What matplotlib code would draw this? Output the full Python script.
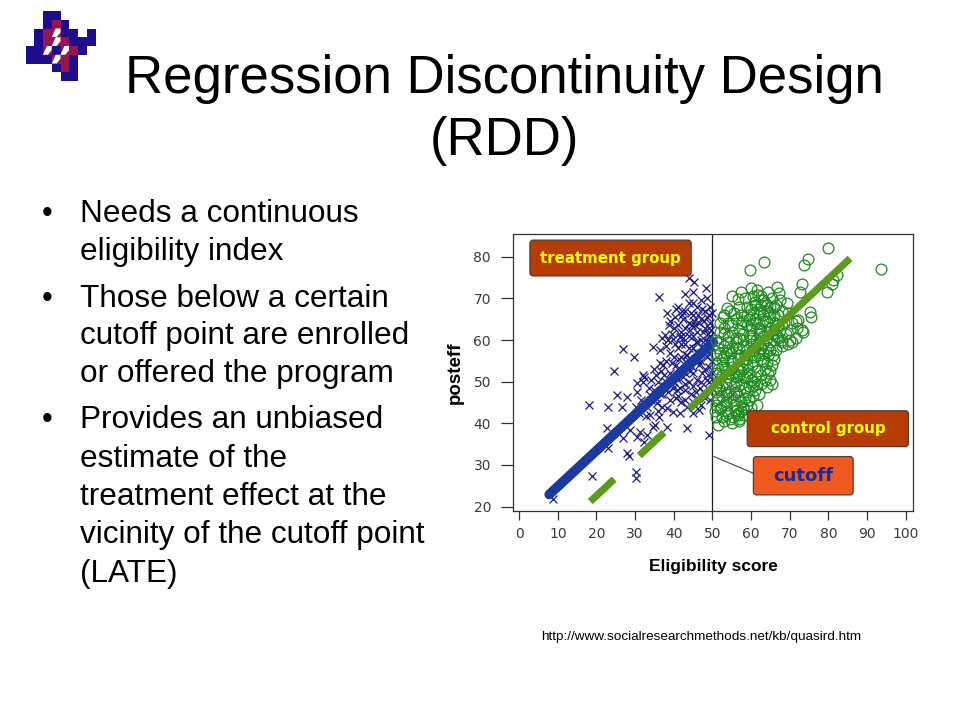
import numpy as np
import matplotlib
matplotlib.use("Agg")
import matplotlib.pyplot as plt
from matplotlib.patches import FancyBboxPatch, Rectangle, Polygon

# ---------------- data ----------------
treat_x = [44.0, 45.3, 48.3, 36.2, 38.2, 40.6, 42.1, 37.8, 39.8, 41.6,
           26.8, 29.6, 34.6, 36.5, 24.6, 32.0, 34.8, 37.3, 18.2, 23.1,
           25.4, 26.6, 28.0, 22.7, 18.8, 23.1, 27.8, 28.3, 30.3, 30.3,
           30.4, 32.3, 34.7, 38.2, 43.4, 49.2, 8.7, 30.4, 30.4, 32.4,
           30.3, 32.8, 27.0, 31.3, 28.7, 33.0, 35.2, 33.9, 36.3, 38.2,
           39.9, 41.6, 45.1, 46.6, 35.6, 33.9, 36.5, 39.0, 32.1, 40.0,
           41.0, 42.0, 43.0, 44.0, 45.0, 46.0, 47.0, 48.0, 49.0, 49.5,
           42.0, 44.0, 45.0, 46.0, 47.0, 48.0, 49.0, 43.0, 44.0, 45.0,
           46.0, 47.0, 48.0, 49.0, 49.8, 41.0, 40.0, 39.0, 38.0, 39.0,
           40.0, 37.0, 36.0, 35.0, 34.0, 42.0, 43.0, 44.0, 45.0, 46.0,
           47.0, 48.0, 49.0, 49.8, 49.8, 49.0, 48.0, 47.0, 46.0, 45.0,
           44.0, 43.0, 42.0, 41.0, 43.0, 45.0, 47.0, 48.5, 49.5, 44.0,
           46.5, 47.5, 48.5, 46.5, 45.5, 43.5, 42.5, 41.5, 40.5, 38.5,
           37.5, 36.5, 38.0, 40.5, 42.5, 39.5, 44.5, 48.5, 49.5, 46.0,
           47.5, 48.8, 45.5, 44.5, 49.0, 45.0, 43.5, 47.5, 41.0, 38.0,
           33.5, 31.5, 35.5, 37.0, 39.5,
           40.2, 41.3, 42.4, 43.5, 44.6, 45.7, 46.8, 47.9, 49.0, 49.7,
           40.8, 41.9, 43.0, 44.1, 45.2, 46.3, 47.4, 48.5, 49.6, 39.5,
           38.5, 37.5, 36.8, 39.8, 42.8, 45.8, 48.8, 44.2, 46.2, 48.2,
           47.2, 43.2, 41.2, 49.4, 46.8, 44.8, 42.2, 40.2, 38.8, 49.8,
           35.5, 34.0, 33.0, 36.0, 31.0, 37.0, 39.0, 41.0, 43.0, 45.0]
treat_y = [74.8, 73.9, 72.4, 70.4, 66.4, 67.4, 66.0, 61.2, 60.2, 60.7,
           57.8, 55.9, 58.3, 57.6, 52.6, 51.6, 53.0, 54.0, 44.4, 44.0,
           46.8, 44.0, 46.4, 38.8, 27.4, 34.0, 32.8, 32.2, 28.3, 26.9,
           36.8, 35.6, 39.0, 39.2, 38.8, 37.2, 21.9, 47.6, 49.6, 51.2,
           43.9, 41.8, 36.4, 38.0, 38.4, 37.2, 39.6, 42.0, 41.6, 43.6,
           42.8, 42.4, 42.4, 43.2, 44.8, 46.8, 47.0, 45.6, 50.0, 50.0,
           53.0, 56.0, 48.0, 58.0, 52.0, 62.0, 55.0, 60.0, 50.0, 64.0,
           62.0, 64.0, 66.0, 68.0, 65.0, 67.0, 63.0, 59.0, 55.0, 49.0,
           46.0, 50.0, 53.0, 57.0, 55.0, 58.0, 56.0, 52.0, 50.0, 57.0,
           63.0, 47.0, 50.0, 48.0, 45.5, 45.0, 52.0, 50.0, 58.0, 57.0,
           60.0, 63.0, 66.0, 60.0, 52.0, 48.0, 46.0, 44.5, 50.5, 61.0,
           61.0, 63.0, 59.0, 63.5, 67.0, 69.0, 69.5, 70.0, 68.0, 69.0,
           64.0, 58.0, 56.0, 54.0, 55.5, 54.5, 51.0, 48.5, 46.0, 47.5,
           51.5, 54.5, 55.0, 54.0, 65.0, 61.5, 47.0, 50.5, 45.5, 59.5,
           62.0, 61.5, 63.5, 66.5, 53.5, 45.0, 44.0, 47.5, 50.5, 58.5,
           48.5, 45.5, 51.5, 44.0, 49.5,
           59.0, 55.5, 60.5, 56.5, 53.5, 59.5, 57.0, 64.5, 59.5, 62.5,
           48.0, 61.0, 45.5, 52.5, 64.5, 66.0, 67.5, 65.5, 58.5, 54.5,
           60.0, 49.0, 52.5, 48.5, 49.5, 47.5, 51.5, 62.5, 55.0, 58.0,
           52.0, 56.5, 46.5, 61.0, 48.5, 63.5, 67.0, 65.5, 63.5, 66.5,
           46.0, 50.5, 44.0, 43.0, 42.5, 60.5, 64.5, 68.0, 71.0, 71.5]

ctrl_x = [79.8, 63.4, 59.7, 74.8, 73.8, 93.6, 73.1, 80.9, 79.6, 82.2,
          81.2, 66.6, 67.2, 72.7, 56.7, 69.2, 75.2, 75.6, 72.2, 53.7,
          52.7, 61.0, 61.8, 70.5, 67.9, 73.1, 64.9, 64.1, 65.4, 57.5,
          58.5, 60.0, 61.5, 62.5, 63.5, 64.5, 65.5, 66.5, 64.0, 62.0,
          60.5, 59.0, 57.5, 56.0, 55.0, 57.0, 59.0, 61.0, 63.0, 65.0,
          67.0, 68.5, 66.0, 64.0, 62.0, 60.0, 58.0, 56.0, 54.0, 52.0,
          51.0, 53.0, 55.0, 57.0, 59.0, 61.0, 63.0, 65.0, 67.0, 69.0,
          70.0, 71.5, 69.5, 66.5, 64.5, 62.5, 60.5, 58.5, 56.5, 54.5,
          52.5, 50.8, 51.5, 53.5, 55.5, 57.5, 59.5, 61.5, 63.5, 65.5,
          63.5, 61.5, 59.5, 57.5, 55.5, 53.5, 51.5, 50.8, 52.5, 54.5,
          56.5, 58.5, 60.5, 62.0, 60.0, 58.0, 56.0, 54.0, 52.0, 51.0,
          53.0, 55.0, 57.0, 53.5, 55.5, 57.5, 59.0, 61.0, 56.0, 54.0,
          52.0, 60.0, 58.0, 56.0, 54.0, 52.5, 62.5, 64.5, 59.0, 57.0,
          55.0, 53.0, 61.0, 63.0, 65.0, 58.0, 60.0, 62.0, 56.0, 54.0,
          58.0, 60.0, 62.0, 64.0, 66.0, 63.0, 61.0, 59.5, 57.5, 55.5,
          54.0, 53.0, 60.5, 62.5, 65.0, 67.5, 68.0, 69.5, 70.5, 71.5,
          72.0, 73.5, 63.0, 65.5, 67.5, 68.0, 66.0, 64.0, 50.8, 50.8,
          51.5, 52.0, 55.0, 53.5, 57.0, 60.5, 62.5, 59.0, 56.5, 54.5,
          52.5, 51.5, 53.5,
          50.6, 51.2, 51.8, 52.4, 53.0, 53.6, 54.2, 54.8, 55.4, 56.0,
          56.6, 57.2, 57.8, 58.4, 59.0, 59.6, 60.2, 60.8, 61.4, 62.0,
          62.6, 63.2, 63.8, 64.4, 65.0, 65.6, 66.2, 66.8, 51.0, 52.0,
          53.0, 54.0, 55.0, 56.0, 57.0, 58.0, 59.0, 60.0, 61.0, 62.0,
          63.0, 64.0, 65.0, 66.0, 67.0, 51.5, 52.5, 53.5, 54.5, 55.5,
          56.5, 57.5, 58.5, 59.5, 60.5, 61.5, 62.5, 50.8, 52.2, 53.8,
          55.2, 56.8, 58.2, 55.0, 57.0, 59.0, 61.0, 63.0, 65.0, 58.0,
          60.0, 62.0, 64.0, 66.0, 68.0, 70.0, 57.0, 54.5, 52.0, 53.0]
ctrl_y = [82.2, 78.8, 76.8, 79.4, 78.0, 77.0, 73.4, 73.4, 71.6, 75.6,
          74.5, 72.8, 71.2, 71.6, 69.8, 68.8, 66.8, 65.6, 64.8, 67.6,
          65.6, 69.2, 70.8, 59.6, 60.0, 62.4, 50.4, 48.8, 49.5, 71.5,
          70.0, 72.5, 72.0, 70.5, 69.0, 71.5, 70.0, 68.5, 67.0, 67.5,
          66.5, 68.0, 66.0, 65.0, 63.5, 62.5, 63.5, 64.0, 64.5, 65.5,
          66.0, 64.0, 62.5, 62.0, 61.5, 60.5, 60.0, 60.5, 61.0, 62.0,
          60.0, 58.5, 58.0, 58.0, 57.5, 58.0, 59.0, 59.5, 60.5, 61.5,
          62.5, 60.5, 59.0, 57.5, 56.5, 55.5, 55.0, 55.5, 55.5, 55.0,
          55.5, 56.5, 53.0, 52.5, 52.0, 52.5, 52.0, 52.5, 53.0, 54.0,
          50.5, 49.5, 49.0, 49.5, 49.0, 49.5, 50.0, 47.5, 46.5, 46.0,
          46.5, 46.0, 46.5, 47.0, 44.0, 43.5, 43.0, 42.5, 43.5, 41.5,
          40.5, 40.0, 41.0, 44.5, 44.5, 45.0, 47.5, 48.0, 47.5, 47.5,
          48.0, 50.5, 51.0, 51.0, 51.0, 51.5, 51.5, 52.0, 54.0, 54.0,
          53.5, 54.0, 56.0, 57.0, 57.5, 58.5, 59.0, 59.5, 59.5, 59.5,
          61.5, 62.5, 63.0, 64.5, 66.0, 66.0, 68.5, 65.0, 64.0, 66.5,
          64.0, 66.0, 70.5, 68.5, 68.0, 69.5, 67.0, 66.5, 64.0, 64.5,
          63.0, 62.0, 61.0, 61.5, 62.5, 58.5, 55.5, 54.5, 44.5, 52.0,
          58.0, 64.0, 70.5, 57.0, 56.5, 57.5, 58.0, 44.5, 42.0, 41.0,
          41.5, 39.5, 42.0,
          43.0, 45.5, 48.5, 53.5, 56.0, 47.0, 52.0, 57.0, 45.5, 50.0,
          53.0, 48.0, 44.0, 56.5, 51.0, 61.0, 54.0, 50.0, 60.0, 56.5,
          62.5, 55.0, 60.0, 58.0, 63.0, 56.5, 64.0, 61.0, 54.5, 59.5,
          61.5, 57.5, 62.0, 58.0, 60.5, 53.0, 66.0, 63.5, 65.0, 66.5,
          69.5, 60.5, 66.5, 68.0, 63.5, 46.0, 49.0, 45.0, 50.5, 47.0,
          42.5, 43.0, 48.5, 45.5, 49.0, 44.5, 49.5, 49.0, 44.0, 43.0,
          41.5, 40.5, 42.0, 55.0, 51.5, 55.5, 51.0, 55.0, 52.5, 64.5,
          67.5, 64.0, 68.5, 60.0, 59.5, 60.0, 68.0, 67.0, 57.0, 63.0]

treat_fit_x = [7.8, 50.2]
treat_fit_y = [22.9, 59.5]
ctrl_fit_x = [18.4, 85.6]
ctrl_fit_y = [21.2, 79.6]
ctrl_dash_breaks = [18.4, 24.6, 31.1, 37.5, 44.0, 85.6]   # on/off/on/off/on
cutoff = 50

x_ticks = [0, 10, 20, 30, 40, 50, 60, 70, 80, 90, 100]
y_ticks = [20, 30, 40, 50, 60, 70, 80]

bullets = [
    ["Needs a continuous", "eligibility index"],
    ["Those below a certain", "cutoff point are enrolled", "or offered the program"],
    ["Provides an unbiased", "estimate of the", "treatment effect at the",
     "vicinity of the cutoff point", "(LATE)"],
]

# ---------------- figure ----------------
W, H = 960, 720
fig = plt.figure(figsize=(9.6, 7.2), dpi=100)
fig.patch.set_facecolor("white")

def fx(x):
    return x / W

def fy(y):
    return 1 - y / H

SANS = ["Liberation Sans", "DejaVu Sans"]

# title
fig.text(fx(504), fy(93), "Regression Discontinuity Design", ha="center",
         va="baseline", fontsize=38, family=SANS, color="black")
fig.text(fx(504), fy(155), "(RDD)", ha="center", va="baseline",
         fontsize=38, family=SANS, color="black")

# bullets
baselines = [221.7, 260, 306.7, 344.3, 382.3, 428.3, 466.7, 505, 543.3, 581.7]
k = 0
for item in bullets:
    for j, line in enumerate(item):
        yb = baselines[k]
        if j == 0:
            fig.text(fx(42), fy(yb), "\u2022", ha="left", va="baseline",
                     fontsize=22, family=SANS)
        fig.text(fx(80.5), fy(yb), line, ha="left", va="baseline",
                 fontsize=22.7, family=SANS)
        k += 1

# URL
fig.text(fx(701), fy(640), "http://www.socialresearchmethods.net/kb/quasird.htm",
         ha="center", va="baseline", fontsize=9.7, family=SANS, color="black")

# logo
logo_grid = [
    "..BB....",
    "..BMB...",
    ".BMWBB.B",
    ".BMWMBBB",
    "BBWBWMB.",
    "BBBWMB..",
    "...BMB..",
    "....BB..",
]
lax = fig.add_axes([fx(25.5), fy(81), 70 / W, 70 / H])
lax.set_xlim(0, 8)
lax.set_ylim(8, 0)
lax.axis("off")
BLUE_L = "#1c0e8e"
MAR_L = "#9a1550"
for r, row in enumerate(logo_grid):
    for c, ch in enumerate(row):
        if ch == "B":
            lax.add_patch(Rectangle((c, r), 1, 1, color=BLUE_L, lw=0))
        elif ch == "M":
            lax.add_patch(Rectangle((c, r), 1, 1, color=MAR_L, lw=0))
        elif ch == "W":
            lax.add_patch(Rectangle((c, r), 1, 1, color=MAR_L, lw=0))
            lax.add_patch(Polygon([(c, r + 1), (c + 0.55, r + 1), (c + 1, r + 0.45),
                                   (c + 1, r), (c + 0.45, r)],
                                  closed=True, color="white", lw=0))

# ---------------- chart ----------------
ax = fig.add_axes([fx(513.3), fy(510.7), (912.7 - 513.3) / W, (510.7 - 234.3) / H])
ax.set_xlim(-1.5, 101.8)
ax.set_ylim(19.0, 85.4)
for s in ax.spines.values():
    s.set_color("#333333")
    s.set_linewidth(0.9)

ax.plot(treat_x, treat_y, linestyle="none", marker="x", ms=6, mew=0.9,
        color="#1b1b8a", zorder=2)
ax.plot(treat_fit_x, treat_fit_y, color="#1a3aa2", lw=7.0,
        solid_capstyle="round", zorder=3)
ax.plot(ctrl_x, ctrl_y, linestyle="none", marker="o", ms=7.8, mew=0.9,
        mfc="none", mec="#1f8c1f", zorder=4)
for i in range(0, len(ctrl_dash_breaks) - 1, 2):
    xs = [ctrl_dash_breaks[i], ctrl_dash_breaks[i + 1]]
    ys = np.interp(xs, ctrl_fit_x, ctrl_fit_y)
    ax.plot(xs, ys, color="#5b9b1c", lw=5.2, solid_capstyle="butt", zorder=5)

ax.axvline(cutoff, color="#222222", lw=0.9, zorder=1)

ax.set_xticks(x_ticks)
ax.set_yticks(y_ticks)
ax.tick_params(axis="y", length=9, width=0.9, color="#333333", pad=7,
               labelsize=10, labelcolor="#3a3a3a")
ax.tick_params(axis="x", length=6.5, width=0.9, color="#333333", pad=5,
               labelsize=10, labelcolor="#3a3a3a")
for lab in ax.get_xticklabels() + ax.get_yticklabels():
    lab.set_family("DejaVu Sans")

ax.set_xlabel("Eligibility score", fontsize=12.5, fontweight="bold",
              family=SANS, labelpad=13)
ax.set_ylabel("posteff", fontsize=13.5, fontweight="bold", family=SANS,
              labelpad=7)

# label boxes (data coordinates)
def label_box(x0, x1, y0, y1, face, text, tcolor, size):
    p = FancyBboxPatch((x0, y0), x1 - x0, y1 - y0,
                       boxstyle="round,pad=0,rounding_size=0.8",
                       mutation_aspect=0.9, fc=face, ec="#5a3a30",
                       lw=0.9, zorder=6)
    ax.add_patch(p)
    ax.text((x0 + x1) / 2, (y0 + y1) / 2, text, ha="center", va="center",
            color=tcolor, fontsize=size, fontweight="bold",
            family="DejaVu Sans", zorder=7)

label_box(2.8, 44.5, 75.4, 84.0, "#b53c05", "treatment group", "#ffff00", 10.8)
label_box(59.0, 100.7, 34.4, 43.0, "#b53c05", "control group", "#ffff00", 10.8)
ax.plot([50.4, 60.6], [32.0, 28.0], color="#444444", lw=0.8, zorder=5)
label_box(60.6, 86.4, 22.8, 32.0, "#f05a20", "cutoff", "#1a2a9a", 13)

fig.savefig("out.png", dpi=100, facecolor="white")
